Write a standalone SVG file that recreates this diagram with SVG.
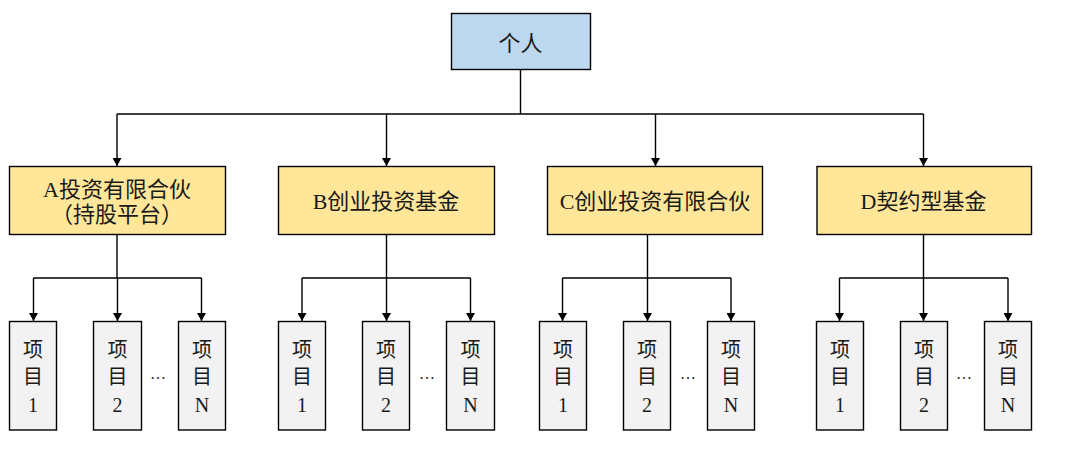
<svg xmlns="http://www.w3.org/2000/svg" width="1068" height="454" viewBox="0 0 1068 454">
<style>
text{font-family:"Liberation Serif","Noto Sans CJK SC",serif;fill:#1a1a1a;text-anchor:middle;dominant-baseline:central}
.top{fill:#BDD7EE;stroke:#000;stroke-width:1.4}
.mid{fill:#FFE699;stroke:#000;stroke-width:1.4}
.prj{fill:#F2F2F2;stroke:#000;stroke-width:1.4}
.t2{font-size:22px}
.tp{font-size:20px}
.dots{font-size:16px}
#connectors path{fill:none;stroke:#000;stroke-width:1.4}
</style>
<defs>
<marker id="ah" viewBox="0 0 8 9" refX="8" refY="4.5" markerWidth="8" markerHeight="9" markerUnits="userSpaceOnUse" orient="auto">
<path d="M0,0 L8,4.5 L0,9 z" fill="#000"/>
</marker>
</defs>
<rect width="1068" height="454" fill="#fff"/>
<g id="connectors">
<path d="M520.5,69 V114 M117,114 H923.5"/>
<path d="M117,114 V166" marker-end="url(#ah)"/>
<path d="M386.5,114 V166" marker-end="url(#ah)"/>
<path d="M655.5,114 V166" marker-end="url(#ah)"/>
<path d="M923.5,114 V166" marker-end="url(#ah)"/>
<path d="M117,234 V278 M33.5,278 H201.5"/>
<path d="M33.5,278 V321" marker-end="url(#ah)"/>
<path d="M117.5,278 V321" marker-end="url(#ah)"/>
<path d="M201.5,278 V321" marker-end="url(#ah)"/>
<path d="M386.5,234 V278 M302,278 H470.5"/>
<path d="M302,278 V321" marker-end="url(#ah)"/>
<path d="M386.5,278 V321" marker-end="url(#ah)"/>
<path d="M470.5,278 V321" marker-end="url(#ah)"/>
<path d="M647.5,234 V278 M562.5,278 H731"/>
<path d="M562.5,278 V321" marker-end="url(#ah)"/>
<path d="M647.5,278 V321" marker-end="url(#ah)"/>
<path d="M731,278 V321" marker-end="url(#ah)"/>
<path d="M923.5,234 V278 M839.5,278 H1008"/>
<path d="M839.5,278 V321" marker-end="url(#ah)"/>
<path d="M923.5,278 V321" marker-end="url(#ah)"/>
<path d="M1008,278 V321" marker-end="url(#ah)"/>
</g>
<g id="n-root"><rect class="top" x="451.5" y="13.5" width="139" height="56"/><text class="t2" x="520.5" y="43">个人</text></g>
<g id="n-A"><rect class="mid" x="9.5" y="166.5" width="216" height="68"/><text class="t2" x="117" y="189">A投资有限合伙</text><text class="t2" x="117" y="214">（持股平台）</text></g>
<g id="n-B"><rect class="mid" x="278.5" y="166.5" width="216" height="68"/><text class="t2" x="386" y="201">B创业投资基金</text></g>
<g id="n-C"><rect class="mid" x="547.5" y="166.5" width="215" height="68"/><text class="t2" x="655" y="201">C创业投资有限合伙</text></g>
<g id="n-D"><rect class="mid" x="817" y="166.5" width="214.5" height="68"/><text class="t2" x="923.5" y="201">D契约型基金</text></g>
<g id="n-A1"><rect class="prj" x="9.5" y="321.5" width="47" height="108.5"/><text class="tp" x="33" y="350">项</text><text class="tp" x="33" y="377">目</text><text class="tp" x="33" y="405">1</text></g>
<g id="n-A2"><rect class="prj" x="93.5" y="321.5" width="48" height="108.5"/><text class="tp" x="117.5" y="350">项</text><text class="tp" x="117.5" y="377">目</text><text class="tp" x="117.5" y="405">2</text></g>
<g id="n-AN"><rect class="prj" x="178.5" y="321.5" width="47" height="108.5"/><text class="tp" x="202" y="350">项</text><text class="tp" x="202" y="377">目</text><text class="tp" x="202" y="405">N</text></g>
<text class="dots" x="158" y="373">…</text>
<g id="n-B1"><rect class="prj" x="278.5" y="321.5" width="47" height="108.5"/><text class="tp" x="302" y="350">项</text><text class="tp" x="302" y="377">目</text><text class="tp" x="302" y="405">1</text></g>
<g id="n-B2"><rect class="prj" x="362.5" y="321.5" width="47" height="108.5"/><text class="tp" x="386" y="350">项</text><text class="tp" x="386" y="377">目</text><text class="tp" x="386" y="405">2</text></g>
<g id="n-BN"><rect class="prj" x="446.5" y="321.5" width="48" height="108.5"/><text class="tp" x="470.5" y="350">项</text><text class="tp" x="470.5" y="377">目</text><text class="tp" x="470.5" y="405">N</text></g>
<text class="dots" x="427" y="373">…</text>
<g id="n-C1"><rect class="prj" x="539.5" y="321.5" width="47" height="108.5"/><text class="tp" x="563" y="350">项</text><text class="tp" x="563" y="377">目</text><text class="tp" x="563" y="405">1</text></g>
<g id="n-C2"><rect class="prj" x="623.5" y="321.5" width="47" height="108.5"/><text class="tp" x="647" y="350">项</text><text class="tp" x="647" y="377">目</text><text class="tp" x="647" y="405">2</text></g>
<g id="n-CN"><rect class="prj" x="707.5" y="321.5" width="47" height="108.5"/><text class="tp" x="731" y="350">项</text><text class="tp" x="731" y="377">目</text><text class="tp" x="731" y="405">N</text></g>
<text class="dots" x="688" y="373">…</text>
<g id="n-D1"><rect class="prj" x="816.5" y="321.5" width="47" height="108.5"/><text class="tp" x="840" y="350">项</text><text class="tp" x="840" y="377">目</text><text class="tp" x="840" y="405">1</text></g>
<g id="n-D2"><rect class="prj" x="900.5" y="321.5" width="47" height="108.5"/><text class="tp" x="924" y="350">项</text><text class="tp" x="924" y="377">目</text><text class="tp" x="924" y="405">2</text></g>
<g id="n-DN"><rect class="prj" x="984.5" y="321.5" width="47" height="108.5"/><text class="tp" x="1008" y="350">项</text><text class="tp" x="1008" y="377">目</text><text class="tp" x="1008" y="405">N</text></g>
<text class="dots" x="964" y="373">…</text>
</svg>
